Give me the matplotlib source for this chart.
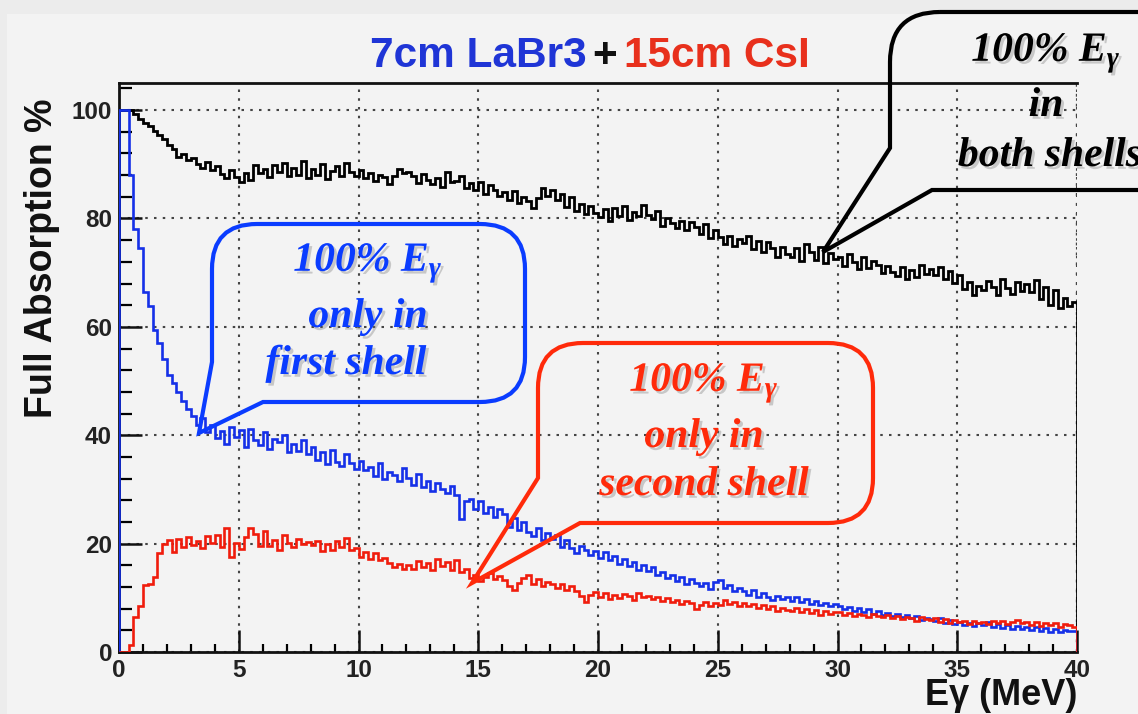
import numpy as np
import matplotlib
matplotlib.use("Agg")
import matplotlib.pyplot as plt
from matplotlib.path import Path
from matplotlib.patches import PathPatch, Rectangle
from matplotlib.transforms import Affine2D
import matplotlib.patheffects as pe

# ---------------- data (0.2 MeV bins, 0 - 40 MeV) ----------------
e_min, e_max, n_bins = 0.0, 40.0, 200

both_shells = [
    100, 100, 100, 99.2, 98.3, 97.6, 97, 96.1, 95.4, 94.6,
    93.6, 92.8, 91.4, 91.9, 90.7, 91.2, 90.1, 89.3, 90.4, 88.9,
    89.6, 88.2, 87.4, 88.9, 87.6, 86.7, 88.3, 87.1, 89.8, 88.4,
    89.1, 87.7, 89.9, 88.5, 90.2, 87.9, 89.4, 88.1, 90.6, 87.5,
    89.2, 88.0, 90.1, 87.3, 88.8, 89.7, 87.9, 90.3, 88.6, 87.8,
    88.9, 87.4, 88.3, 86.9, 88.1, 87.7, 86.4, 87.8, 89.1, 88.4,
    88.6, 87.9, 86.5, 88.2, 87.1, 86.3, 87.4, 85.9, 88.5, 86.8,
    86.9, 87.8, 85.6, 86.5, 85.2, 86.7, 84.6, 86.1, 85.3, 84.2,
    84.8, 83.5, 85.1, 82.9, 84.0, 83.2, 81.9, 83.7, 85.6, 84.1,
    85.2, 83.4, 84.6, 82.1, 83.9, 81.4, 82.6, 80.8, 82.3, 81.0,
    80.2, 81.7, 79.6, 81.9, 80.5, 82.3, 79.8, 81.2, 80.4, 82.5,
    80.7, 79.9, 81.3, 78.6, 80.1, 79.2, 78.3, 79.6, 77.8, 79.4,
    78.5, 77.1, 78.9, 76.4, 77.8, 76.6, 75.2, 76.8, 75.0, 76.3,
    75.4, 76.7, 74.3, 75.9, 73.8, 75.6, 74.5, 72.9, 74.8, 73.5,
    72.8, 74.6, 72.1, 75.2, 73.9, 72.4, 74.7, 71.8, 73.6, 72.6,
    72.9, 71.2, 73.4, 71.9, 70.6, 72.8, 70.9, 72.2, 71.5, 69.9,
    71.3, 70.2, 69.4, 71.1, 68.9, 70.5, 69.2, 71.4, 69.8, 70.7,
    69.6, 71.0, 68.8, 70.3, 68.1, 69.5, 66.9, 68.2, 65.9, 67.6,
    66.8, 68.4, 67.3, 65.8, 68.9, 67.2, 66.1, 68.3, 66.7, 67.9,
    66.4, 68.6, 65.2, 67.3, 64.1, 66.8, 63.5, 65.4, 63.9, 64.6,
]

first_shell = [
    100, 100, 88, 78, 74.5, 66.5, 63.8, 59.5, 57, 54,
    51.2, 49.6, 47.9, 46.3, 44.8, 43.6, 41.9, 43.2, 40.6, 41.8,
    39.4, 40.8, 38.3, 41.5, 39.7, 40.9, 37.8, 41.2, 39.1, 38.2,
    40.6, 37.5, 39.3, 38.7, 40.1, 36.9, 38.4, 37.1, 39.2, 36.6,
    37.8, 35.4, 36.9, 34.7, 37.2, 35.1, 34.3, 36.5, 34.9, 33.8,
    35.2, 33.6, 34.1, 32.4, 34.8, 31.9, 33.3, 32.7, 31.6, 33.9,
    32.2, 30.8, 32.9, 30.4, 31.6, 29.8, 31.2, 30.1, 29.4, 30.6,
    28.9, 24.6, 27.8, 28.3, 26.4, 27.9, 25.7, 26.8, 24.9, 26.3,
    25.4, 23.1, 24.7, 22.5, 23.9, 22.2, 21.4, 22.8, 20.6, 21.9,
    20.8, 21.5, 19.4, 20.7, 19.1, 18.3, 19.6, 18.8, 17.9, 18.6,
    17.4, 18.5, 16.9, 17.8, 16.3, 17.1, 15.8, 16.6, 15.2, 16.1,
    14.9, 15.6, 14.2, 14.8, 13.7, 14.3, 13.1, 13.9, 12.6, 13.4,
    12.8, 12.1, 12.7, 11.6, 12.9, 13.3, 11.8, 12.4, 11.2, 11.9,
    11.3, 10.6, 11.5, 10.2, 10.9, 10.1, 9.6, 10.4, 9.8, 10.2,
    9.5, 10.1, 9.2, 9.8, 8.9, 9.4, 8.6, 9.1, 8.4, 8.9,
    8.5, 7.9, 8.3, 7.6, 8.1, 7.4, 7.9, 7.1, 7.5, 6.9,
    7.2, 6.6, 7.0, 6.4, 6.8, 6.2, 6.6, 5.9, 6.3, 6.0,
    5.7, 6.2, 5.4, 5.9, 5.2, 5.6, 4.9, 5.4, 4.8, 5.3,
    4.9, 5.5, 4.6, 5.1, 4.4, 4.9, 4.3, 4.8, 4.2, 4.6,
    4.1, 4.6, 3.9, 4.4, 3.7, 4.2, 3.6, 4.0, 3.8, 3.9,
]

second_shell = [
    0, 0, 1.2, 6.5, 8.4, 12.3, 12.6, 13.8, 18.2, 19.9,
    20.6, 18.4, 20.9, 19.3, 21.2, 19.8, 20.5, 19.1, 21.4, 20.2,
    21.6, 19.4, 22.8, 17.6, 20.1, 19.0, 21.2, 22.9, 21.8, 19.6,
    22.4, 19.5, 20.7, 18.9, 21.6, 20.2, 19.4, 20.8, 19.9, 20.3,
    19.7, 20.4, 18.6, 19.9, 18.8, 20.5, 19.3, 21.1, 18.9, 19.2,
    17.6, 18.4, 17.1, 18.2, 16.9, 17.4, 16.5, 15.6, 16.2, 15.4,
    16.1, 15.3, 16.8, 15.7, 16.5, 15.2, 17.2, 15.8, 16.6, 15.1,
    16.9, 14.8, 15.3, 13.6, 14.2, 13.1, 13.9, 14.6, 13.4, 14.1,
    13.2, 12.1, 11.4, 12.8, 13.6, 14.3, 12.6, 13.4, 12.2, 12.9,
    12.5, 11.8, 12.6, 11.4, 12.1, 11.2, 10.4, 9.3, 10.6, 11.0,
    10.2, 10.9, 9.8, 10.6, 9.9, 10.7, 10.3, 9.6, 10.8, 10.1,
    10.4, 9.8, 10.1, 9.4, 9.9, 9.2, 9.6, 8.8, 9.4, 9.1,
    7.9, 8.6, 9.3, 8.4, 9.1, 8.7, 9.6, 8.9, 9.2, 8.5,
    9.1, 8.4, 8.8, 8.1, 8.6, 7.9, 8.4, 7.6, 8.2, 7.8,
    7.6, 8.2, 7.4, 7.9, 7.2, 7.7, 6.9, 7.5, 7.1, 7.4,
    7.3, 6.8, 7.2, 6.6, 7.1, 6.9, 6.4, 7.0, 6.7, 6.5,
    6.8, 6.3, 6.6, 6.0, 6.5, 6.2, 5.8, 6.4, 6.1, 5.9,
    6.2, 5.6, 6.0, 5.4, 5.9, 5.5, 5.8, 5.2, 5.7, 5.4,
    5.6, 5.2, 5.8, 5.3, 5.7, 5.1, 5.5, 5.9, 5.3, 5.6,
    5.0, 5.5, 4.8, 5.3, 4.9, 5.4, 4.7, 5.1, 4.9, 4.6,
]

x_ticks = [0, 5, 10, 15, 20, 25, 30, 35, 40]
y_ticks = [0, 20, 40, 60, 80, 100]

# ---------------- figure ----------------
W, H = 1138, 714
plt.rcParams["font.family"] = ["Liberation Sans", "DejaVu Sans"]
plt.rcParams["mathtext.fontset"] = "custom"
plt.rcParams["mathtext.it"] = "Liberation Serif:italic:bold"
plt.rcParams["mathtext.rm"] = "Liberation Serif:bold"
plt.rcParams["mathtext.bf"] = "Liberation Serif:italic:bold"

fig = plt.figure(figsize=(W / 100, H / 100), dpi=100, facecolor="#ececec")
fig.patches.append(Rectangle((7 / W, 0), 1, 1 - 14 / H, transform=fig.transFigure,
                             facecolor="#f3f3f3", edgecolor="none", zorder=-10))

L_ax, R_ax, T_ax, B_ax = 119, 1077, 83, 652
ax = fig.add_axes([L_ax / W, 1 - B_ax / H, (R_ax - L_ax) / W, (B_ax - T_ax) / H])
ax.set_facecolor("#f3f3f3")

edges = np.linspace(e_min, e_max, n_bins + 1)
ax.stairs(both_shells, edges, baseline=0, color="black", lw=2.0, zorder=3)
ax.stairs(first_shell, edges, baseline=0, color="#1530e8", lw=1.9, zorder=4)
ax.stairs(second_shell, edges, baseline=0, color="#f01c0c", lw=1.9, zorder=5)

ax.set_xlim(0, 40)
ax.set_ylim(0, 105)
ax.set_xticks(x_ticks)
ax.set_yticks(y_ticks)
ax.set_xticks(np.arange(0, 41, 1), minor=True)
ax.set_yticks(np.arange(0, 105, 4), minor=True)
ax.grid(True, which="major", color="#444444", linestyle=(0, (1.2, 3.0)), lw=1.5)
ax.axvline(40, color="#444444", linestyle=(0, (1.2, 3.0)), lw=1.7, zorder=1)
for s in ["left", "bottom", "top"]:
    ax.spines[s].set_linewidth(2.0)
    ax.spines[s].set_color("#111111")
ax.spines["right"].set_visible(False)
ax.tick_params(axis="x", which="major", direction="in", length=16, width=1.8,
               labelsize=17.5, pad=5, colors="#111111", top=False)
ax.tick_params(axis="x", which="minor", direction="in", length=6, width=1.6, top=False)
ax.tick_params(axis="y", which="major", direction="in", length=16.5, width=1.8,
               labelsize=17.5, pad=5, colors="#111111", right=False)
ax.tick_params(axis="y", which="minor", direction="in", length=9.5, width=1.6, right=False)
for lab in ax.get_xticklabels() + ax.get_yticklabels():
    lab.set_fontweight("bold")
    lab.set_color("#222222")

def fx(px):
    return px / W

def fy(py):
    return 1 - py / H

# axis titles
fig.text(fx(42), fy(258), "Full Absorption %", rotation=90, ha="center", va="center",
         fontsize=27, fontweight="bold", color="#111111")
fig.text(fx(1077), fy(705), "E\u03b3 (MeV)", ha="right", va="baseline",
         fontsize=26, fontweight="bold", color="#111111")

# title in three colours
fig.text(fx(370), fy(67), "7cm LaBr3", ha="left", va="baseline", fontsize=30.5,
         fontweight="bold", color="#1f35d6")
fig.text(fx(605), fy(67), "+", ha="center", va="baseline", fontsize=30.5,
         fontweight="bold", color="#111111")
fig.text(fx(624), fy(67), "15cm CsI", ha="left", va="baseline", fontsize=30.5,
         fontweight="bold", color="#e8301c")

# callouts (pixel geometry)
pix = Affine2D().scale(1 / W, -1 / H).translate(0, 1) + fig.transFigure

def callout(L, T, R, B, r, p1y, tip, p2x, color):
    verts = [(L + r, T), (R - r, T), (R, T), (R, T + r), (R, B - r), (R, B), (R - r, B),
             (p2x, B), tip, (L, p1y), (L, T + r), (L, T), (L + r, T), (L + r, T)]
    codes = [Path.MOVETO, Path.LINETO, Path.CURVE3, Path.CURVE3, Path.LINETO,
             Path.CURVE3, Path.CURVE3, Path.LINETO, Path.LINETO, Path.LINETO,
             Path.LINETO, Path.CURVE3, Path.CURVE3, Path.CLOSEPOLY]
    patch = PathPatch(Path(verts, codes), transform=pix, facecolor="none",
                      edgecolor=color, lw=3.0, joinstyle="miter", zorder=10)
    fig.patches.append(patch)

shadow = [pe.withSimplePatchShadow(offset=(2, -2), shadow_rgbFace="#777777", alpha=0.35)]

def ctext(x, y, s, color):
    fig.text(fx(x), fy(y), s, ha="center", va="center", fontsize=30, color=color,
             family="Liberation Serif", style="italic", fontweight="bold",
             path_effects=shadow, zorder=11)

blue_c = "#0a3cff"
red_c = "#ff2a0a"
callout(212, 224, 525, 402, 45, 362, (199, 433), 263, blue_c)
ctext(368, 263, "100% $E_\\gamma$", blue_c)
ctext(368, 317, "only in", blue_c)
ctext(346, 364, "first shell", blue_c)

callout(538, 343, 873, 523, 45, 478, (472, 583), 580, red_c)
ctext(704, 383, "100% $E_\\gamma$", red_c)
ctext(704, 437, "only in", red_c)
ctext(704, 485, "second shell", red_c)

callout(890, 12, 1190, 190, 50, 148, (823, 252), 932, "black")
ctext(1046, 53, "100% $E_\\gamma$", "black")
ctext(1046, 106, "in", "black")
ctext(1050, 156, "both shells", "black")

fig.savefig("out.png", dpi=100, facecolor=fig.get_facecolor())
